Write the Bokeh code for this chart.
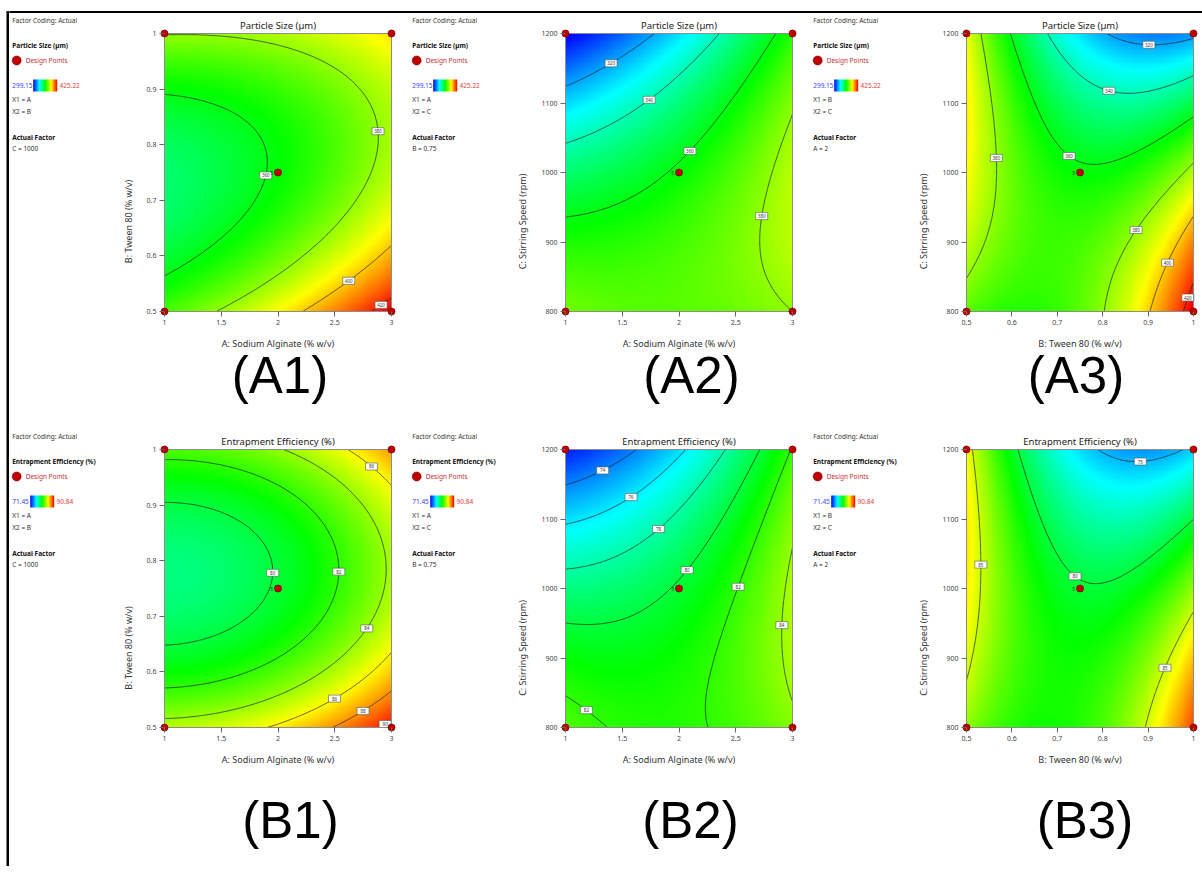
import numpy as np
import contourpy
from bokeh.plotting import figure
from bokeh.layouts import column, row
from bokeh.models import LinearColorMapper, FixedTicker, Range1d
from bokeh.embed import file_html
from bokeh.resources import INLINE
from bokeh.core.properties import value

# ---------------- data ----------------
A_levels = [1.0, 2.0, 3.0]          # A: Sodium alginate (% w/v)
B_levels = [0.5, 0.75, 1.0]         # B: Tween 80 (% w/v)
C_levels = [800.0, 1000.0, 1200.0]  # C: Stirring speed (rpm)
A_ticks = [1, 1.5, 2, 2.5, 3]
A_tick_labels = ["1", "1.5", "2", "2.5", "3"]
B_ticks = [0.5, 0.6, 0.7, 0.8, 0.9, 1.0]
B_tick_labels = ["0.5", "0.6", "0.7", "0.8", "0.9", "1"]
C_ticks = [800, 900, 1000, 1100, 1200]
C_tick_labels = ["800", "900", "1000", "1100", "1200"]
factor_names = {"A": "A: Sodium Alginate (% w/v)",
                "B": "B: Tween 80 (% w/v)",
                "C": "C: Stirring Speed (rpm)"}

# coded quadratic models [b0, A, B, C, AB, AC, BC, A2, B2, C2]
ps_coef = [361.8, 18.1, -4.9, -22.9, -9.8, 16.1, -32.0, 5.0, 27.0, -11.7]
ee_coef = [80.2, 2.79, -1.2, -3.04, -0.17, 2.28, -4.0, 1.36, 4.87, -1.46]
ps_range = [299.15, 425.22]
ee_range = [71.45, 90.84]
ps_contours = [320, 340, 360, 380, 400, 420]
ee_contours = [74, 76, 78, 80, 82, 84, 86, 88, 90]
ee_contours_bc = [75, 80, 85]
center_runs = "5"

panel_x = ["A", "A", "B"]
panel_y = ["B", "C", "C"]
panel_fixed = ["C", "B", "A"]
fixed_text = ["C = 1000", "B = 0.75", "A = 2"]
captions_ps = ["(A1)", "(A2)", "(A3)"]
captions_ee = ["(B1)", "(B2)", "(B3)"]

# ---------------- styling / layout ----------------
stops = [(0, 0, 255), (0, 255, 255), (0, 255, 0), (255, 255, 0), (255, 0, 0)]
PALETTE = []
for i in range(256):
    t = i / 255 * 4
    k = min(int(t), 3)
    f = t - k
    c = [round(stops[k][j] * (1 - f) + stops[k + 1][j] * f) for j in range(3)]
    PALETTE.append("#%02x%02x%02x" % tuple(c))

PAD = 5            # px at the left/right of the plot box inside the frame
TOP_PAD = 20       # px above the box (title area)
BOX_W = 227
BOX_H = 278
ROW_H = [416, 437]
LEFT_W = 9
TOP_H = 13
CAP_DY = [63.5, 92.5]                    # caption centre below box bottom (px)
CAP_DX = [[2, 12.5, -4], [12.5, 11.5, 5]]  # caption shift from box centre (px)
LEG_W = [101, 100, 100]
LEG_TX = [2.7, 1.7, 2.7]
PAN_W = [300, 300, 292]
PAN_BL = [49, 50, 51]
PAN_BR = [14, 13, 4]
INNER_W = sum(LEG_W) + sum(PAN_W)
FONT = "Noto Sans"

levels_of = {"A": A_levels, "B": B_levels, "C": C_levels}
ticks_of = {"A": (A_ticks, A_tick_labels), "B": (B_ticks, B_tick_labels),
            "C": (C_ticks, C_tick_labels)}


def predict(coef, a, b, c):
    return (coef[0] + coef[1] * a + coef[2] * b + coef[3] * c + coef[4] * a * b
            + coef[5] * a * c + coef[6] * b * c + coef[7] * a * a + coef[8] * b * b
            + coef[9] * c * c)


def coded(f, v):
    lv = levels_of[f]
    return (np.asarray(v) - lv[1]) / ((lv[2] - lv[0]) / 2.0)


def blank(w, h, xr, yr):
    p = figure(width=w, height=h, x_range=Range1d(*xr), y_range=Range1d(*yr),
               toolbar_location=None, output_backend="svg", min_border=0,
               x_axis_type=None, y_axis_type=None)
    p.outline_line_color = None
    p.grid.visible = False
    return p


def make_panel(coef, vrange, clevels, xf, yf, ff, title, caption, width, bl, br,
               height, cap_dx, cap_dy):
    x0, xc, x1 = levels_of[xf]
    y0, yc, y1 = levels_of[yf]
    spx = (x1 - x0) / BOX_W
    spy = (y1 - y0) / BOX_H
    below = height - TOP_PAD - BOX_H
    p = figure(width=width, height=height,
               x_range=Range1d(x0 - PAD * spx, x1 + PAD * spx),
               y_range=Range1d(y0 - below * spy, y1 + TOP_PAD * spy),
               toolbar_location=None, output_backend="svg",
               min_border_left=bl, min_border_right=br,
               min_border_top=0, min_border_bottom=0)
    p.outline_line_color = None
    p.grid.visible = False

    mapper = LinearColorMapper(palette=PALETTE, low=vrange[0], high=vrange[1])
    N = 240
    gx = np.linspace(x0, x1, N)
    gy = np.linspace(y0, y1, N)
    GX, GY = np.meshgrid(gx, gy)
    cod = {xf: coded(xf, GX), yf: coded(yf, GY), ff: np.zeros_like(GX)}
    Z = predict(coef, cod["A"], cod["B"], cod["C"])
    p.image(image=[Z], x=x0, y=y0, dw=x1 - x0, dh=y1 - y0, color_mapper=mapper)

    gen = contourpy.contour_generator(GX, GY, Z, line_type="Separate")
    lxs, lys, tx, ty, tt = [], [], [], [], []
    for lev in clevels:
        for seg in gen.lines(lev):
            if len(seg) < 2:
                continue
            lxs.append(seg[:, 0])
            lys.append(seg[:, 1])
            px = (seg[:, 0] - x0) / spx
            py = (seg[:, 1] - y0) / spy
            d = np.hypot(np.diff(px), np.diff(py))
            s = np.concatenate([[0.0], np.cumsum(d)])
            if s[-1] < 12:
                continue
            i = int(np.searchsorted(s, s[-1] / 2))
            tx.append(seg[i, 0])
            ty.append(seg[i, 1])
            tt.append(str(lev))
    p.multi_line(xs=lxs, ys=lys, line_color="#1a1a1a", line_width=0.7)
    p.rect(x=tx, y=ty, width=12, height=7, width_units="screen", height_units="screen",
           fill_color="white", line_color="#555555", line_width=0.6)
    p.text(x=tx, y=ty, text=tt, text_font=value(FONT), text_font_size=value("4.5px"),
           text_align="center", text_baseline="middle", text_color="#333333")

    p.quad(left=[x0], right=[x1], bottom=[y0], top=[y1], fill_color=None,
           line_color="#8c8c8c", line_width=1)

    dpx = [x0, x1, x0, x1, xc]
    dpy = [y0, y0, y1, y1, yc]
    p.scatter(x=dpx, y=dpy, size=7, fill_color="#C00000", line_color="#7a0000",
              line_width=0.8)
    p.text(x=[xc], y=[yc], text=[center_runs], x_offset=-5, text_font=value(FONT),
           text_font_size=value("5px"), text_align="right", text_baseline="middle",
           text_color="#333333")

    # title above the box, caption below the axis (both inside the frame)
    p.text(x=[xc], y=[y1 + 8 * spy], text=[title], text_font=value(FONT),
           text_font_size=value("9.5px"), text_align="center", text_baseline="middle",
           text_color="#222222")
    p.text(x=[(x0 + x1) / 2 + cap_dx * spx], y=[y0 - cap_dy * spy], text=[caption],
           text_font=value("Liberation Sans"), text_font_size=value("51px"),
           text_align="center", text_baseline="middle", text_color="#000000")

    xt, xl = ticks_of[xf]
    yt, yl = ticks_of[yf]
    p.xaxis.ticker = FixedTicker(ticks=xt)
    p.xaxis.major_label_overrides = dict(zip(xt, xl))
    p.xaxis.fixed_location = y0
    p.yaxis.ticker = FixedTicker(ticks=yt)
    p.yaxis.major_label_overrides = dict(zip(yt, yl))
    p.xaxis.axis_label = factor_names[xf]
    p.yaxis.axis_label = factor_names[yf]
    for ax in (p.xaxis[0], p.yaxis[0]):
        ax.minor_tick_line_color = None
        ax.axis_line_color = None
        ax.major_tick_line_color = "#666666"
        ax.major_label_text_font = FONT
        ax.major_label_text_font_size = "7px"
        ax.major_label_text_color = "#444444"
        ax.major_label_standoff = 3
        ax.axis_label_text_font = FONT
        ax.axis_label_text_font_size = "9px"
        ax.axis_label_text_font_style = "normal"
        ax.axis_label_text_color = "#333333"
    p.xaxis.major_tick_in = 0
    p.xaxis.major_tick_out = PAD
    p.yaxis.major_tick_in = PAD
    p.yaxis.major_tick_out = 0
    p.xaxis.axis_label_standoff = 9
    p.yaxis.axis_label_standoff = 9
    return p


def legend_fig(w, h, tx, resp_title, vrange, x1, x2, fixed, bar_dx):
    p = blank(w, h, (0, w), (0, h))

    def Y(v):
        return h - v

    fs = value("6.5px")
    f = value(FONT)
    p.text(x=[tx], y=[Y(7)], text=["Factor Coding: Actual"], text_font=f,
           text_font_size=fs, text_color="#333333", text_baseline="middle")
    p.text(x=[tx, tx], y=[Y(32), Y(124)], text=[resp_title, "Actual Factor"],
           text_font=f, text_font_size=fs, text_font_style="bold",
           text_color="#111111", text_baseline="middle")
    p.scatter(x=[tx + 4.5], y=[Y(47)], size=9, fill_color="#C00000",
              line_color="#800000", line_width=0.6)
    p.text(x=[tx + 13.5], y=[Y(47)], text=["Design Points"], text_font=f,
           text_font_size=fs, text_color="#C83232", text_baseline="middle")
    p.text(x=[tx], y=[Y(72)], text=["%.2f" % vrange[0]], text_font=f,
           text_font_size=fs, text_color="#3c3cff", text_baseline="middle")
    mapper = LinearColorMapper(palette=PALETTE, low=vrange[0], high=vrange[1])
    grad = np.linspace(vrange[0], vrange[1], 120)[None, :]
    p.image(image=[grad], x=tx + bar_dx, y=Y(78), dw=24, dh=12, color_mapper=mapper)
    p.text(x=[tx + bar_dx + 26.3], y=[Y(72)], text=["%.2f" % vrange[1]], text_font=f,
           text_font_size=fs, text_color="#e03c3c", text_baseline="middle")
    p.text(x=[tx, tx, tx], y=[Y(86), Y(98), Y(135)],
           text=["X1 = " + x1, "X2 = " + x2, fixed], text_font=f,
           text_font_size=fs, text_color="#333333", text_baseline="middle")
    return p


TOTAL_H = TOP_H + sum(ROW_H)

left = blank(LEFT_W, TOTAL_H, (0, LEFT_W), (0, TOTAL_H))
left.quad(left=[6.5, 6.5], right=[8.5, LEFT_W], bottom=[0, TOTAL_H - 12.5],
          top=[TOTAL_H - 11, TOTAL_H - 11], color="black")

top = blank(INNER_W, TOP_H, (0, INNER_W), (0, TOP_H))
top.quad(left=[0], right=[INNER_W], bottom=[0.5], top=[2.0], color="black")

specs = [("Particle Size (µm)", ps_coef, ps_range, [ps_contours] * 3, captions_ps, 21.0),
         ("Entrapment Efficiency (%)", ee_coef, ee_range,
          [ee_contours, ee_contours, ee_contours_bc], captions_ee, 18.0)]
blocks = [top]
for r, (resp, coef, vr, clevs, caps, bar_dx) in enumerate(specs):
    kids = []
    for k in range(3):
        kids.append(legend_fig(LEG_W[k], ROW_H[r], LEG_TX[k], resp, vr,
                               panel_x[k], panel_y[k], fixed_text[k], bar_dx))
        kids.append(make_panel(coef, vr, clevs[k], panel_x[k], panel_y[k], panel_fixed[k],
                               resp, caps[k], PAN_W[k], PAN_BL[k], PAN_BR[k], ROW_H[r],
                               CAP_DX[r][k], CAP_DY[r]))
    blocks.append(row(*kids))

layout = row(left, column(*blocks))
open("out.html", "w").write(file_html(layout, INLINE, "Response surface contour plots"))
